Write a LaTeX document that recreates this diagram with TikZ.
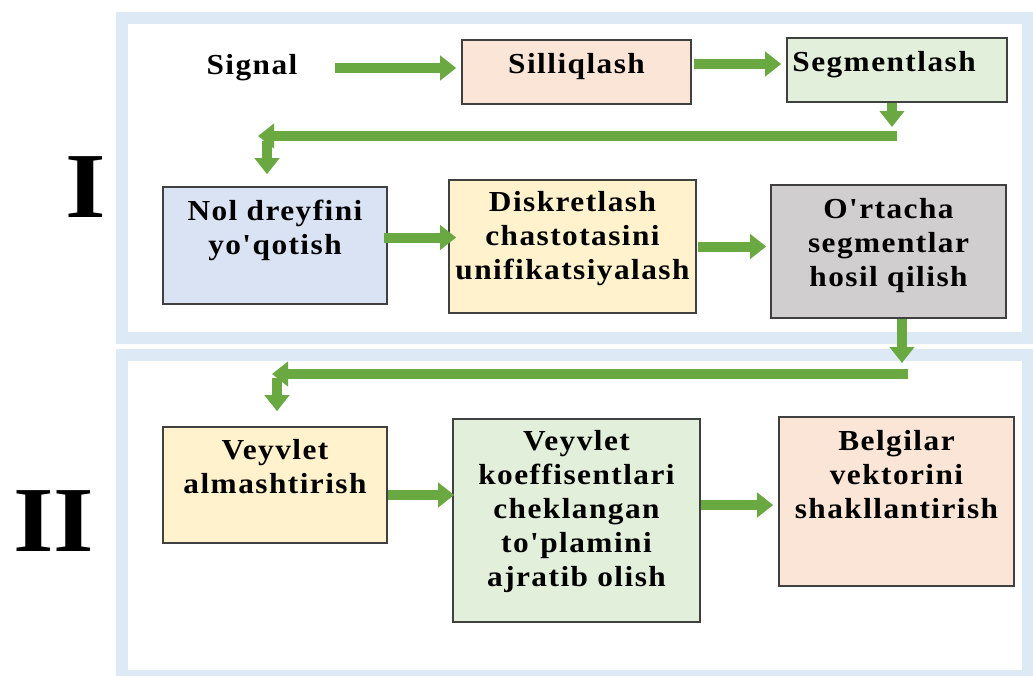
\documentclass[tikz,border=0pt]{standalone}
\usepackage{fontspec}
\newfontfamily\lblfont{Liberation Serif}[LetterSpace=5,FakeStretch=1.08]
\newfontfamily\romfont{Liberation Serif}[FakeStretch=1.12]
\usetikzlibrary{arrows.meta,positioning}

\definecolor{framebl}{HTML}{DDEAF6}
\definecolor{arrgreen}{HTML}{6AA842}
\definecolor{peach}{HTML}{FBE5D6}
\definecolor{mint}{HTML}{E2EFDA}
\definecolor{skyb}{HTML}{DAE3F3}
\definecolor{cream}{HTML}{FFF2CC}
\definecolor{greyb}{HTML}{D0CECE}

\begin{document}
\begin{tikzpicture}[x=1pt,y=-1pt,
  box/.style={draw=black!75,line width=1.6pt,inner sep=0pt},
  lbl/.style={align=center,font=\lblfont\bfseries\fontsize{29}{34}\selectfont,inner sep=0pt},
  roman/.style={font=\romfont\bfseries\fontsize{93}{93}\selectfont,inner sep=0pt},
  garrow/.style={draw=arrgreen,line width=10pt,-{Triangle[length=16pt 0,width=24pt 0]}}]
\useasboundingbox (0,0) rectangle (1033,675);
\clip (0,0) rectangle (1033,675);
% panels
\draw[framebl,line width=12pt] (122,18) rectangle (1027.5,337.5);
\draw[framebl,line width=12pt] (122,355) rectangle (1027.5,676);
\node[roman] (rI) at (86,187) {I};
\node[roman] (rII) at (54,521) {II};
% stage I
\node[lbl] (sig) at (252,68) {Signal};
\node[box,fill=peach,minimum width=229pt,minimum height=64pt] (sil) at (576.5,72) {};
\node[lbl,below=14pt of sil.north] {Silliqlash};
\node[box,fill=mint,minimum width=220pt,minimum height=64pt] (seg) at (897,70) {};
\node[lbl,below right=14pt and 6pt of seg.north west] {Segmentlash};
\node[box,fill=skyb,minimum width=224pt,minimum height=117pt] (nol) at (275,245.5) {};
\node[lbl,below=14pt of nol.north] {Nol dreyfini\\yo'qotish};
\node[box,fill=cream,minimum width=247pt,minimum height=133pt] (dis) at (572.5,246.5) {};
\node[lbl,below=12pt of dis.north] {Diskretlash\\chastotasini\\unifikatsiyalash};
\node[box,fill=greyb,minimum width=235pt,minimum height=133pt] (ort) at (888.5,251.5) {};
\node[lbl,below=14pt of ort.north] {O'rtacha\\segmentlar\\hosil qilish};
% stage II
\node[box,fill=cream,minimum width=224pt,minimum height=116pt] (vey) at (275,485) {};
\node[lbl,below=13pt of vey.north] {Veyvlet\\almashtirish};
\node[box,fill=mint,minimum width=247pt,minimum height=203pt] (koef) at (576.5,520.5) {};
\node[lbl,below=12pt of koef.north] {Veyvlet\\koeffisentlari\\cheklangan\\to'plamini\\ajratib olish};
\node[box,fill=peach,minimum width=235pt,minimum height=169pt] (bel) at (896.5,501.5) {};
\node[lbl,below=14pt of bel.north] {Belgilar\\vektorini\\shakllantirish};
% turning points
\coordinate (j1) at (892,136);
\coordinate (j2) at (267,136);
\coordinate (j3) at (902,374);
\coordinate (j4) at (277,374);
% arrows
\draw[garrow,shorten >=5pt] ([xshift=37pt]sig.east) -- (sig.east -| sil.west);
\draw[garrow,shorten <=2pt,shorten >=5pt] ([yshift=8pt]sil.east) -- ([yshift=8pt]sil.east -| seg.west);
\draw[garrow,shorten >=9pt] ([xshift=-5pt]seg.south) -- ([xshift=-5pt]seg.south |- j1);
\draw[garrow] ([xshift=5pt]j1) -- ([xshift=-9pt]j2);
\draw[garrow,shorten >=12pt] ([yshift=-5pt]j2) -- ([xshift=-8pt]nol.north);
\draw[garrow,shorten <=-4pt,shorten >=-8pt] ([yshift=8pt]nol.east) -- ([yshift=8pt]nol.east -| dis.west);
\draw[garrow,shorten <=1pt,shorten >=4pt] (dis.east) -- (dis.east -| ort.west);
\draw[garrow,shorten >=11pt] ([xshift=13.5pt]ort.south) -- ([xshift=13.5pt]ort.south |- j3);
\draw[garrow] ([xshift=6pt]j3) -- ([xshift=-5pt]j4);
\draw[garrow,shorten >=15pt] ([yshift=-4pt]j4) -- ([xshift=2pt]vey.north);
\draw[garrow,shorten >=-2pt] ([yshift=-10pt]vey.east) -- ([yshift=-10pt]vey.east -| koef.west);
\draw[garrow,shorten >=5pt] ([yshift=15.5pt]koef.east) -- ([yshift=15.5pt]koef.east -| bel.west);
\end{tikzpicture}
\end{document}
